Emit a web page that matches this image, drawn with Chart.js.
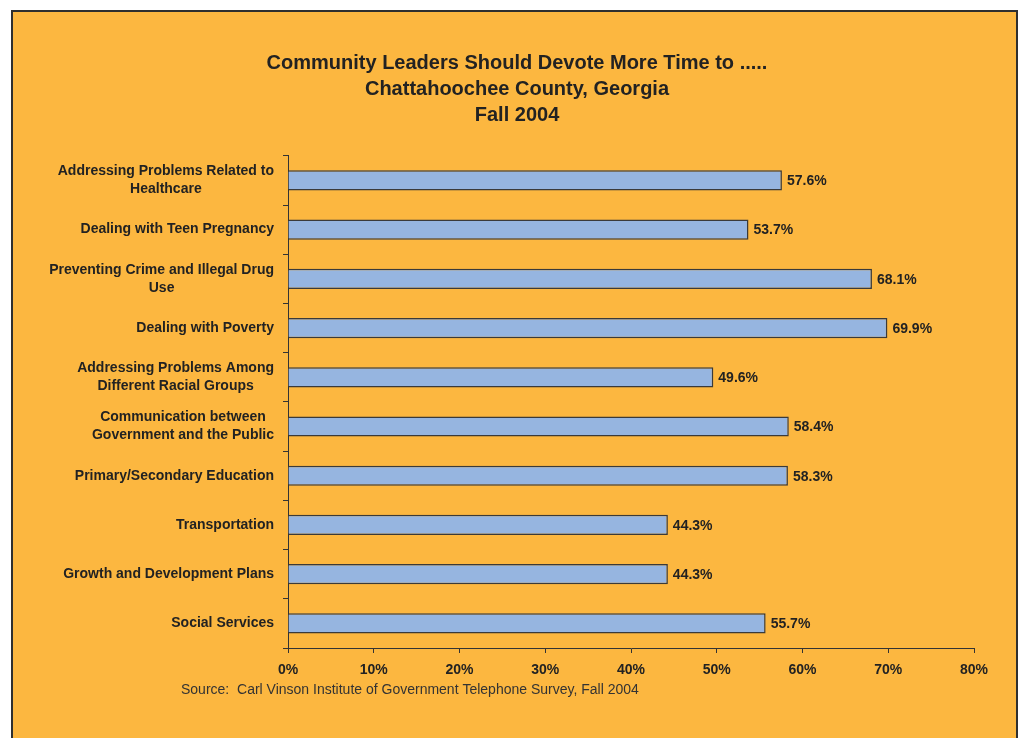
<!DOCTYPE html>
<html>
<head>
<meta charset="utf-8">
<script src="https://cdn.jsdelivr.net/npm/chart.js@4/dist/chart.umd.min.js"></script>
<style>
  html, body { margin: 0; padding: 0; background: #ffffff; overflow: hidden; }
  #frame {
    position: absolute; left: 11px; top: 10px;
    width: 1003px; height: 800px;
    background: #FCB740; border: 2px solid #2f2f2f;
  }
  #chart { position: absolute; left: 0; top: 0; }
</style>
</head>
<body>
<div id="frame"></div>
<canvas id="chart" width="1021" height="738"></canvas>
<script>
// Survey topics (top to bottom) and the share of respondents for each
const categories = [
  ['Addressing Problems Related to', 'Healthcare'],
  ['Dealing with Teen Pregnancy'],
  ['Preventing Crime and Illegal Drug', 'Use'],
  ['Dealing with Poverty'],
  ['Addressing Problems Among', 'Different Racial Groups'],
  ['Communication between', 'Government and the Public'],
  ['Primary/Secondary Education'],
  ['Transportation'],
  ['Growth and Development Plans'],
  ['Social Services']
];
const values = [57.6, 53.7, 68.1, 69.9, 49.6, 58.4, 58.3, 44.3, 44.3, 55.7];
const percentTicks = [0, 10, 20, 30, 40, 50, 60, 70, 80];
const titleLines = [
  'Community Leaders Should Devote More Time to .....',
  'Chattahoochee County, Georgia',
  'Fall 2004'
];
const sourceNote = 'Source:  Carl Vinson Institute of Government Telephone Survey, Fall 2004';

const FONT = '"Liberation Sans", Arial, Helvetica, sans-serif';
const TEXT = '#222222';

// Category labels: each block right-aligned to the axis, lines centred within the block
const categoryLabels = {
  id: 'categoryLabels',
  afterDraw(chart) {
    const ctx = chart.ctx;
    const y = chart.scales.y;
    const right = chart.chartArea.left - 14;
    const lineH = 18;
    ctx.save();
    ctx.font = 'bold 14px ' + FONT;
    ctx.fillStyle = TEXT;
    ctx.textAlign = 'center';
    ctx.textBaseline = 'middle';
    categories.forEach((lines, i) => {
      const cy = y.getPixelForValue(i);
      const w = Math.max(...lines.map(l => ctx.measureText(l).width));
      const cx = right - w / 2;
      lines.forEach((l, k) => {
        ctx.fillText(l, cx, cy + (k - (lines.length - 1) / 2) * lineH);
      });
    });
    ctx.restore();
  }
};

// Value labels at the end of each bar, plus the source note
const valueLabels = {
  id: 'valueLabels',
  afterDatasetsDraw(chart) {
    const ctx = chart.ctx;
    const meta = chart.getDatasetMeta(0);
    ctx.save();
    ctx.font = 'bold 14px ' + FONT;
    ctx.fillStyle = TEXT;
    ctx.textAlign = 'left';
    ctx.textBaseline = 'middle';
    meta.data.forEach((bar, i) => {
      ctx.fillText(values[i].toFixed(1) + '%', bar.x + 5, bar.y + 1);
    });
    ctx.font = '14px ' + FONT;
    ctx.fillStyle = '#333333';
    ctx.fillText(sourceNote, 181, 690);
    ctx.restore();
  }
};

new Chart(document.getElementById('chart'), {
  type: 'bar',
  data: {
    labels: categories,
    datasets: [{
      data: values,
      backgroundColor: '#96B5E0',
      borderColor: '#3a3a3a',
      borderWidth: 1.5,
      barPercentage: 0.41,
      categoryPercentage: 1.0
    }]
  },
  options: {
    indexAxis: 'y',
    responsive: false,
    animation: false,
    devicePixelRatio: 1,
    layout: { padding: { left: 60, right: 47, top: 14, bottom: 50 } },
    plugins: {
      legend: { display: false },
      tooltip: { enabled: false },
      title: {
        display: true,
        text: titleLines,
        color: TEXT,
        font: { family: FONT, size: 20, weight: 'bold', lineHeight: 1.28 },
        padding: { top: 37, bottom: 28 }
      }
    },
    scales: {
      x: {
        min: 0, max: 80,
        afterBuildTicks(scale) { scale.ticks = percentTicks.map(v => ({ value: v })); },
        afterFit(scale) { scale.height = 40; },
        grid: { drawOnChartArea: false, drawTicks: true, tickLength: 5, color: '#333333' },
        border: { color: '#333333', width: 1 },
        ticks: {
          padding: 9,
          color: TEXT,
          font: { family: FONT, size: 14, weight: 'bold' },
          callback: v => v + '%'
        }
      },
      y: {
        afterFit(scale) { scale.width = 228; },
        grid: { drawOnChartArea: false, drawTicks: true, tickLength: 5, color: '#333333', offset: true },
        border: { color: '#333333', width: 1 },
        ticks: { color: 'rgba(0,0,0,0)', font: { family: FONT, size: 14, weight: 'bold' } }
      }
    }
  },
  plugins: [categoryLabels, valueLabels]
});
</script>
</body>
</html>
